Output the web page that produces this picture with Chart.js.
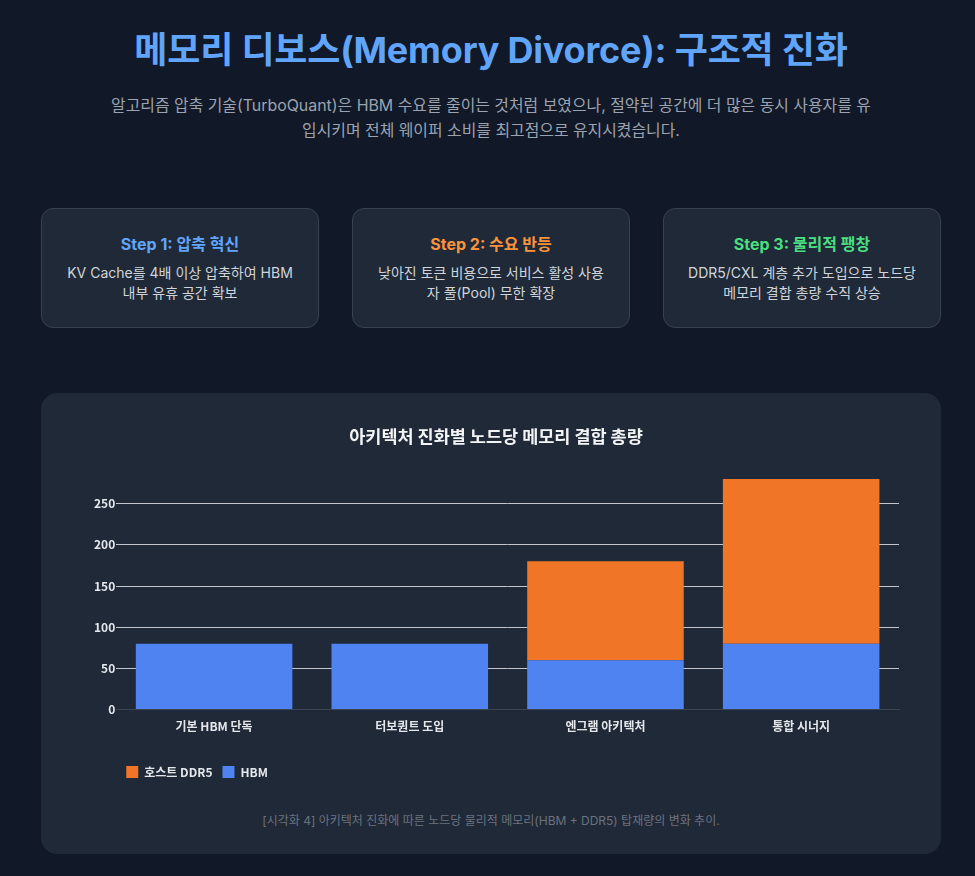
<!DOCTYPE html>
<html lang="ko">
<head>
<meta charset="utf-8">
<script src="https://cdn.jsdelivr.net/npm/chart.js@4.4.1/dist/chart.umd.min.js"></script>
<style>
  html, body { margin: 0; padding: 0; background: #111827; overflow: hidden; }
  body { font-family: Inter, "Noto Sans CJK KR", sans-serif; width: 975px; height: 876px; }
  .wrap { width: 900px; margin-left: 41px; }
  h1 { margin: 28px 0 0; font-size: 36px; line-height: 44px; font-weight: 700; color: #60a5fa; text-align: center; letter-spacing: -0.2px; }
  p.sub { margin: 21px auto 0; max-width: 768px; font-size: 15.9px; line-height: 25px; color: #9ca3af; text-align: center; }
  .cards { display: flex; gap: 33px; margin-top: 65px; }
  .card { box-sizing: border-box; width: 278px; height: 120px; background: #1f2937; border: 1px solid #374151; border-radius: 12px; padding: 25px 24px 0; text-align: center; }
  .card h3 { margin: 0; font-size: 16px; line-height: 20px; font-weight: 700; }
  .card p { margin: 9px 0 0; font-size: 14px; line-height: 20px; color: #d1d5db; }
  .chartbox { box-sizing: border-box; margin-top: 65px; height: 461px; background: #1f2937; border-radius: 16px; padding: 24px 24px 0; }
  .canvas-wrap { position: relative; height: 371px; }
  .caption { margin: 24px 0 0; font-size: 12px; line-height: 18px; color: #6b7280; text-align: center; }
</style>
</head>
<body>
<div class="wrap">
  <h1>메모리 디보스(Memory Divorce): 구조적 진화</h1>
  <p class="sub">알고리즘 압축 기술(TurboQuant)은 HBM 수요를 줄이는 것처럼 보였으나, 절약된 공간에 더 많은 동시 사용자를 유입시키며 전체 웨이퍼 소비를 최고점으로 유지시켰습니다.</p>
  <div class="cards">
    <div class="card"><h3 style="color:#60a5fa">Step 1: 압축 혁신</h3><p>KV Cache를 4배 이상 압축하여 HBM 내부 유휴 공간 확보</p></div>
    <div class="card"><h3 style="color:#fb923c">Step 2: 수요 반등</h3><p>낮아진 토큰 비용으로 서비스 활성 사용자 풀(Pool) 무한 확장</p></div>
    <div class="card"><h3 style="color:#4ade80">Step 3: 물리적 팽창</h3><p>DDR5/CXL 계층 추가 도입으로 노드당 메모리 결합 총량 수직 상승</p></div>
  </div>
  <div class="chartbox">
    <div class="canvas-wrap"><canvas id="c"></canvas></div>
    <p class="caption">[시각화 4] 아키텍처 진화에 따른 노드당 물리적 메모리(HBM + DDR5) 탑재량의 변화 추이.</p>
  </div>
</div>
<script>
const categories = ['기본 HBM 단독', '터보퀀트 도입', '엔그램 아키텍처', '통합 시너지'];
const hbmValues = [80, 80, 60, 80];
const ddrValues = [0, 0, 120, 200];
const seriesLabels = ['HBM', '호스트 DDR5'];
const yMax = 280;
const yStep = 50;

const tickFont = { family: '"Noto Sans CJK KR", sans-serif', size: 12, weight: 'bold' };

new Chart(document.getElementById('c'), {
  type: 'bar',
  data: {
    labels: categories,
    datasets: [
      { label: seriesLabels[0], data: hbmValues, backgroundColor: '#4f83f1', borderWidth: 0, barPercentage: 0.8, categoryPercentage: 1.0 },
      { label: seriesLabels[1], data: ddrValues, backgroundColor: '#f07527', borderWidth: 0, barPercentage: 0.8, categoryPercentage: 1.0 }
    ]
  },
  options: {
    responsive: true,
    maintainAspectRatio: false,
    animation: false,
    layout: { padding: { left: 28, right: 18, top: 0, bottom: 0 } },
    plugins: {
      title: {
        display: true,
        text: '아키텍처 진화별 노드당 메모리 결합 총량',
        color: '#f3f4f6',
        font: { family: '"Noto Sans CJK KR", sans-serif', size: 17.5, weight: 'bold' },
        padding: { top: 9, bottom: 32 }
      },
      legend: {
        position: 'bottom',
        align: 'start',
        reverse: true,
        fullSize: false,
        title: { display: true, text: '', font: { size: 10 }, padding: { top: 8, bottom: 0 } },
        labels: {
          color: '#e5e7eb',
          font: tickFont,
          boxWidth: 12,
          boxHeight: 12,
          padding: 10
        }
      },
      tooltip: { enabled: false }
    },
    scales: {
      x: {
        stacked: true,
        grid: { display: false },
        border: { display: true, color: '#3b4452' },
        ticks: { color: '#e5e7eb', font: tickFont, padding: 2 }
      },
      y: {
        stacked: true,
        min: 0,
        max: yMax,
        border: { display: false },
        grid: {
          color: (ctx) => (ctx.tick && ctx.tick.value === 0) ? '#3b4452' : '#c3c7cd',
          lineWidth: 1,
          drawTicks: false
        },
        ticks: { stepSize: yStep, includeBounds: false, color: '#e5e7eb', font: tickFont, padding: 1 }
      }
    }
  }
});
</script>
</body>
</html>
